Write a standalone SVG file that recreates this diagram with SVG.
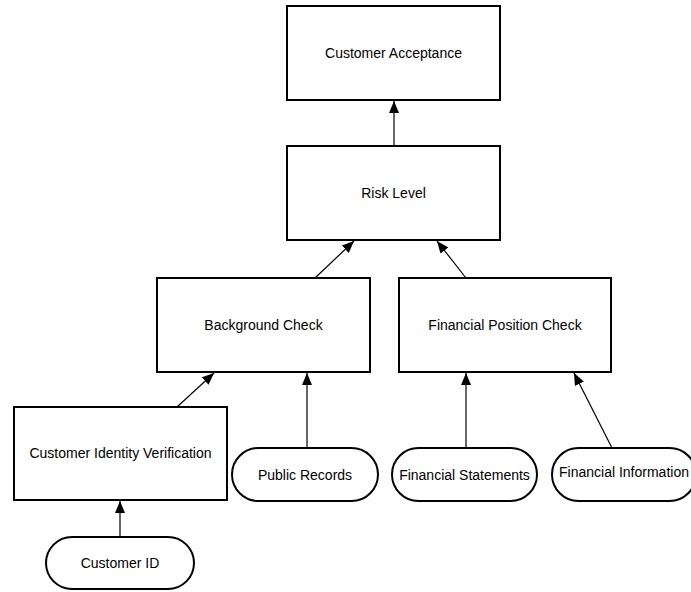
<svg xmlns="http://www.w3.org/2000/svg" width="691" height="592" viewBox="0 0 691 592">
<style>
.box{fill:#fff;stroke:#000;stroke-width:2}
.lbl{font-family:"Liberation Sans",Arial,sans-serif;font-size:14px;fill:#000;text-anchor:middle;dominant-baseline:central}
.edge{stroke:#000;stroke-width:1.2;fill:none;marker-end:url(#arr)}
</style>
<defs>
<marker id="arr" viewBox="0 0 12 10" refX="12" refY="5" markerWidth="12" markerHeight="10" markerUnits="userSpaceOnUse" orient="auto">
<path d="M0,0 L12,5 L0,10 Z" fill="#000"/>
</marker>
</defs>
<rect width="691" height="592" fill="#fff"/>
<g id="connectors">
<line class="edge" x1="394" y1="146" x2="394" y2="101"/>
<line class="edge" x1="315" y1="278" x2="354" y2="241"/>
<line class="edge" x1="466" y1="278" x2="437" y2="241"/>
<line class="edge" x1="177" y1="407" x2="214" y2="373"/>
<line class="edge" x1="307" y1="448" x2="307" y2="373"/>
<line class="edge" x1="466" y1="448" x2="466" y2="373"/>
<line class="edge" x1="612" y1="448" x2="574" y2="373"/>
<line class="edge" x1="120" y1="537" x2="120" y2="501"/>
</g>
<g id="customer-acceptance">
<rect class="box" x="287" y="6" width="213" height="94"/>
<text class="lbl" x="393.5" y="53">Customer Acceptance</text>
</g>
<g id="risk-level">
<rect class="box" x="287" y="146" width="213" height="94"/>
<text class="lbl" x="393.5" y="193">Risk Level</text>
</g>
<g id="background-check">
<rect class="box" x="157" y="278" width="213" height="94"/>
<text class="lbl" x="263.5" y="325">Background Check</text>
</g>
<g id="financial-position-check">
<rect class="box" x="399" y="278" width="212" height="94"/>
<text class="lbl" x="505" y="325">Financial Position Check</text>
</g>
<g id="customer-identity-verification">
<rect class="box" x="14" y="407" width="213" height="93"/>
<text class="lbl" x="120.5" y="453">Customer Identity Verification</text>
</g>
<g id="public-records">
<rect class="box" x="232" y="448" width="146" height="53" rx="26.5" ry="26.5"/>
<text class="lbl" x="305" y="474.5">Public Records</text>
</g>
<g id="financial-statements">
<rect class="box" x="392" y="448" width="145" height="53" rx="26.5" ry="26.5"/>
<text class="lbl" x="464.5" y="474.5">Financial Statements</text>
</g>
<g id="financial-information">
<rect class="box" x="552" y="448" width="144" height="53" rx="26.5" ry="26.5"/>
<text class="lbl" x="624" y="472">Financial Information</text>
</g>
<g id="customer-id">
<rect class="box" x="46" y="537" width="148" height="52" rx="26" ry="26"/>
<text class="lbl" x="120" y="563">Customer ID</text>
</g>
</svg>
